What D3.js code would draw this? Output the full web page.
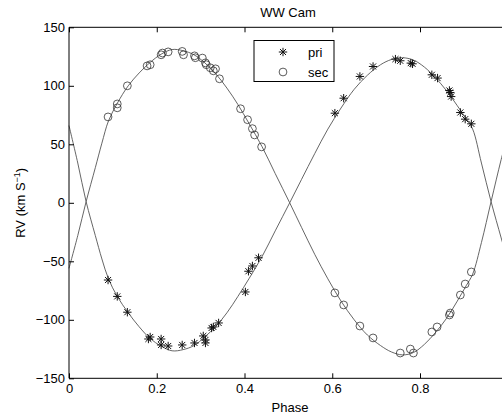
<!DOCTYPE html>
<html><head><meta charset="utf-8">
<script src="https://cdn.jsdelivr.net/npm/d3@7"></script>
<style>
html,body{margin:0;padding:0;background:#fff;overflow:hidden;}
text{font-family:"Liberation Sans",Arial,Helvetica,sans-serif;}
</style></head>
<body>
<svg id="chart" width="502" height="417"></svg>
<script>
// ---------- data ----------
const title = "WW Cam";
const xTicks = [0, 0.2, 0.4, 0.6, 0.8];
const yTicks = [-150, -100, -50, 0, 50, 100, 150];
const legendLabels = ["pri", "sec"];

// primary RV observations (asterisks)
const priPhase = [0.089,0.110,0.133,0.181,0.185,0.210,0.210,0.226,0.258,0.286,0.306,0.311,0.311,0.325,0.329,0.341,0.402,0.409,0.418,0.432,
                  0.606,0.626,0.663,0.693,0.744,0.755,0.779,0.783,0.827,0.840,0.867,0.869,0.871,0.892,0.903,0.917];
const priRV    = [-66,-80,-93.5,-116.4,-114.7,-116.4,-121.5,-122.4,-121.5,-119.8,-113.8,-117.2,-119.8,-107,-106.1,-102.7,-76.2,-58.5,-54,-47,
                  76.6,89.4,108,116.5,122.8,121.4,119.4,118.8,109.4,106.6,96,94.3,90.8,77.2,71.5,67.5];

// secondary RV observations (circles)
const secPhase = [0.089,0.110,0.110,0.133,0.178,0.185,0.210,0.213,0.226,0.258,0.261,0.286,0.288,0.304,0.311,0.313,0.322,0.334,0.329,0.343,0.391,0.407,0.418,0.423,0.439,
                  0.606,0.626,0.663,0.693,0.755,0.778,0.785,0.827,0.839,0.867,0.869,0.892,0.903,0.917];
const secRV    = [73.4,84.5,81.2,100,117,118,126.5,128,129,129.4,126.5,125.6,124,123.7,119.6,118,115.4,114.5,112.8,106,80.4,71,63.4,58,47.8,
                  -77,-87.3,-105.3,-115.5,-128.4,-125,-128.4,-110.4,-106.1,-95.9,-94.2,-78.8,-69.4,-59.1];

// fitted model curves
const modelPhase = [0,0.02,0.039,0.06,0.075,0.09,0.11,0.135,0.16,0.185,0.21,0.235,0.26,0.285,0.31,0.335,0.36,0.385,0.41,0.44,0.47,0.503,
                    0.53,0.56,0.59,0.62,0.65,0.68,0.71,0.735,0.76,0.785,0.81,0.835,0.86,0.885,0.905,0.92,0.94,0.962,0.985,1];
const modelPri = [66,34,1,-28,-48,-65,-80,-94,-106,-116,-122.5,-126.5,-125.5,-122,-114.5,-105.5,-94,-80,-65,-46,-24,0,
                  20,42,63,81,97,109,118,122.5,124,122,116,107,96,83,72,63,34,1,-30,-50];
const modelSec = [-56,-28,1,30,51,70,85,100,111,120,127,131,130,126.5,119.5,110,98,84,68,48,25,0,
                  -21,-44,-65,-84,-100,-113,-122,-127.5,-130,-128,-121,-111,-99,-84,-71,-61,-34,1,37,58];

// ---------- layout ----------
const svg = d3.select("#chart");
const mLeft = 69, mRight = 507.75, mTop = 27.3, mBottom = 378.3;
const x = d3.scaleLinear().domain([0, 1]).range([mLeft, mRight]);
const y = d3.scaleLinear().domain([-150, 150]).range([mBottom, mTop]);
const fs = 13;

// curves
const line = d3.line().x(d => x(d[0])).y(d => y(d[1])).curve(d3.curveCatmullRom.alpha(0.5));
[modelPri, modelSec].forEach(vals => {
  svg.append("path")
    .datum(modelPhase.map((p, i) => [p, vals[i]]))
    .attr("d", line).attr("fill", "none")
    .attr("stroke", "#555").attr("stroke-width", 0.9);
});

// markers
function star(g, cx, cy, s) {
  const d = s * 0.72;
  g.append("path")
    .attr("d", `M${cx - s},${cy}H${cx + s}M${cx},${cy - s}V${cy + s}M${cx - d},${cy - d}L${cx + d},${cy + d}M${cx - d},${cy + d}L${cx + d},${cy - d}`)
    .attr("stroke", "#111").attr("stroke-width", 1).attr("fill", "none");
}
const gPri = svg.append("g");
priPhase.forEach((p, i) => star(gPri, x(p), y(priRV[i]), 4.2));
svg.append("g").selectAll("circle").data(secPhase).join("circle")
  .attr("cx", d => x(d)).attr("cy", (d, i) => y(secRV[i])).attr("r", 3.9)
  .attr("fill", "none").attr("stroke", "#333").attr("stroke-width", 0.8);

// axes box
svg.append("path")
  .attr("d", `M${mLeft},${mTop}H${mRight}V${mBottom}H${mLeft}Z`)
  .attr("fill", "none").attr("stroke", "#000").attr("stroke-width", 1);

const xAxis = svg.append("g").attr("transform", `translate(0,${mBottom})`)
  .call(d3.axisBottom(x).tickValues(xTicks).tickFormat(d => d3.format("")(d)).tickSizeInner(-5).tickSizeOuter(0).tickPadding(5));
const xTopAxis = svg.append("g").attr("transform", `translate(0,${mTop})`)
  .call(d3.axisTop(x).tickValues(xTicks).tickFormat("").tickSizeInner(-5).tickSizeOuter(0));
const yAxis = svg.append("g").attr("transform", `translate(${mLeft},0)`)
  .call(d3.axisLeft(y).tickValues(yTicks).tickFormat(d => d < 0 ? "\u2212" + Math.abs(d) : String(d)).tickSizeInner(-5).tickSizeOuter(0).tickPadding(4));
[xAxis, xTopAxis, yAxis].forEach(g => {
  g.select(".domain").remove();
  g.selectAll("line").attr("stroke", "#000");
  g.selectAll("text").attr("font-size", fs).attr("fill", "#000")
    .attr("font-family", '"Liberation Sans",Arial,sans-serif');
});

// title and labels
svg.append("text").attr("x", 288).attr("y", 17).attr("text-anchor", "middle")
  .attr("font-size", fs).text(title);
svg.append("text").attr("x", 290).attr("y", 411.5).attr("text-anchor", "middle")
  .attr("font-size", fs).text("Phase");
const yl = svg.append("text").attr("transform", `translate(25,${(mTop + mBottom) / 2}) rotate(-90)`)
  .attr("text-anchor", "middle").attr("font-size", fs);
yl.append("tspan").text("RV (km S");
yl.append("tspan").attr("dy", -5).attr("font-size", 9).text("\u22121");
yl.append("tspan").attr("dy", 5).text(")");

// legend
const lg = svg.append("g");
lg.append("rect").attr("x", 254).attr("y", 40.5).attr("width", 80).attr("height", 41)
  .attr("fill", "#fff").attr("stroke", "#000").attr("stroke-width", 1);
star(lg, 283, 52, 4.2);
lg.append("circle").attr("cx", 283).attr("cy", 72).attr("r", 3.9)
  .attr("fill", "none").attr("stroke", "#333").attr("stroke-width", 0.8);
lg.append("text").attr("x", 308).attr("y", 56.5).attr("font-size", fs).text(legendLabels[0]);
lg.append("text").attr("x", 308).attr("y", 76.5).attr("font-size", fs).text(legendLabels[1]);
</script>
</body></html>
